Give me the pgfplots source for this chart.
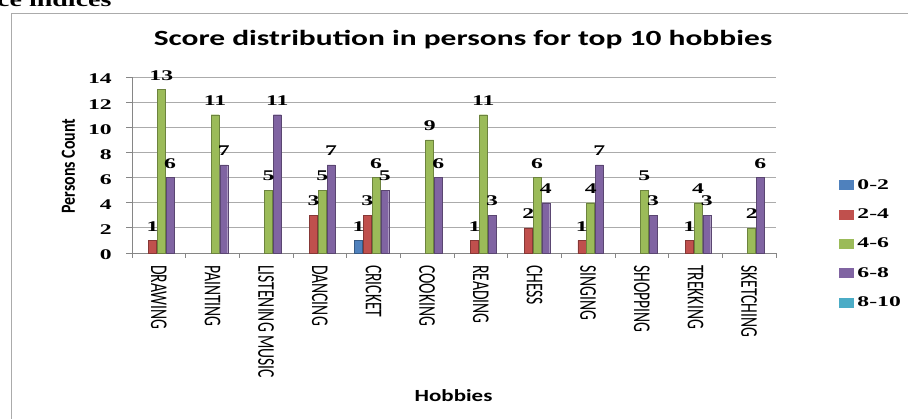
\documentclass[border=0pt]{standalone}
\usepackage{pgfplots}
\pgfplotsset{compat=1.18}
\usepackage{fontspec}
\newfontfamily\catfont[FakeStretch=0.65]{Carlito}
\newfontfamily\ylabfont[FakeStretch=0.80]{Carlito}
\newfontfamily\titlefont[FakeStretch=1.45]{Carlito}
\newfontfamily\hobfont[FakeStretch=1.35]{Carlito}
\newfontfamily\numfont[FakeStretch=1.6]{Liberation Serif}
\newfontfamily\headfont[FakeStretch=1.4]{Liberation Serif}
\definecolor{sA}{HTML}{4F81BD}
\definecolor{sB}{HTML}{C0504D}
\definecolor{sC}{HTML}{9BBB59}
\definecolor{sD}{HTML}{8064A2}
\definecolor{sE}{HTML}{4BACC6}
\definecolor{axisgray}{HTML}{868686}
\definecolor{gridgray}{HTML}{ABABAB}
\begin{document}
\begin{tikzpicture}
\useasboundingbox (0,0) rectangle (908pt,419pt);
\draw[gridgray, line width=0.9pt] (11pt,-20pt) -- (11pt,406pt) -- (940pt,406pt);
\node[anchor=base west, inner sep=0pt, font=\headfont\bfseries\fontsize{20}{20}\selectfont] at (-3pt,412.5pt) {ce indices};
\node[anchor=base, inner sep=0pt, font=\titlefont\bfseries\fontsize{21.7}{22}\selectfont] at (463pt,373pt) {Score distribution in persons for top 10 hobbies};
\node[anchor=base, inner sep=0pt, font=\hobfont\bfseries\fontsize{17}{17}\selectfont] at (453.5pt,17pt) {Hobbies};
\node[rotate=90, inner sep=0pt, font=\ylabfont\bfseries\fontsize{20}{20}\selectfont] at (68.5pt,253pt) {Persons Count};
\begin{axis}[
  at={(132pt,166pt)}, anchor=south west,
  scale only axis, width=644pt, height=176pt,
  xmin=-0.5, xmax=11.5, ymin=0, ymax=14,
  clip=false,
  axis x line*=bottom, axis y line*=left,
  axis line style={-, draw=axisgray, line width=0.9pt},
  ytick={0,2,...,14},
  xtick={0,...,11},
  xticklabels={DRAWING,PAINTING,LISTENING MUSIC,DANCING,CRICKET,COOKING,READING,CHESS,SINGING,SHOPPING,TREKKING,SKETCHING},
  minor xtick={-0.5,0.5,...,11.5},
  tick align=outside,
  major tick length=6pt, minor tick length=5pt,
  tick style={draw=axisgray, line width=0.9pt},
  major x tick style={draw=none},
  ymajorgrids, grid style={draw=gridgray, line width=0.9pt},
  /pgf/number format/assume math mode=true,
  x tick label style={font=\catfont\fontsize{24}{24}\selectfont, rotate=-90, anchor=west, inner sep=0pt},
  xticklabel shift=6pt,
  y tick label style={font=\numfont\bfseries\fontsize{14.8}{15}\selectfont, inner sep=0pt, yshift=-2pt},
  yticklabel shift=14pt,
  bar width=8pt,
  nodes near coords,
  every node near coord/.append style={font=\numfont\bfseries\fontsize{14.8}{15}\selectfont, inner sep=0pt, anchor=south, yshift=9pt, text=black},
  legend style={at={(1.093,0.43)}, anchor=north west, draw=none, fill=none,
    font=\numfont\bfseries\fontsize{14.8}{15}\selectfont,
    row sep=18pt, column sep=4pt, nodes={inner sep=0pt}},
  legend cell align=left,
]
\addplot[ybar, fill=sA, draw=sA!70!black, bar shift=-15pt,
  every node near coord/.append style={xshift=-15pt},
  legend image code/.code={\fill[sA] (0pt,-4.5pt) rectangle (14pt,4.5pt);}] coordinates {(4,1)};
\addlegendentry{0-2}
\addplot[ybar, fill=sB, draw=sB!70!black, bar shift=-6.3pt,
  every node near coord/.append style={xshift=-6.3pt},
  legend image code/.code={\fill[sB] (0pt,-4.5pt) rectangle (14pt,4.5pt);}] coordinates {(0,1) (3,3) (4,3) (6,1) (7,2) (8,1) (10,1)};
\addlegendentry{2-4}
\addplot[ybar, fill=sC, draw=sC!70!black, bar shift=2.5pt,
  every node near coord/.append style={xshift=2.5pt},
  legend image code/.code={\fill[sC] (0pt,-4.5pt) rectangle (14pt,4.5pt);}] coordinates {(0,13) (1,11) (2,5) (3,5) (4,6) (5,9) (6,11) (7,6) (8,4) (9,5) (10,4) (11,2)};
\addlegendentry{4-6}
\addplot[ybar, fill=sD, draw=sD!70!black, bar shift=11.2pt,
  every node near coord/.append style={xshift=11.2pt},
  legend image code/.code={\fill[sD] (0pt,-4.5pt) rectangle (14pt,4.5pt);}] coordinates {(0,6) (1,7) (2,11) (3,7) (4,5) (5,6) (6,3) (7,4) (8,7) (9,3) (10,3) (11,6)};
\addlegendentry{6-8}
\addlegendimage{legend image code/.code={\fill[sE] (0pt,-4.5pt) rectangle (14pt,4.5pt);}}
\addlegendentry{8-10}
\end{axis}
\end{tikzpicture}
\end{document}
